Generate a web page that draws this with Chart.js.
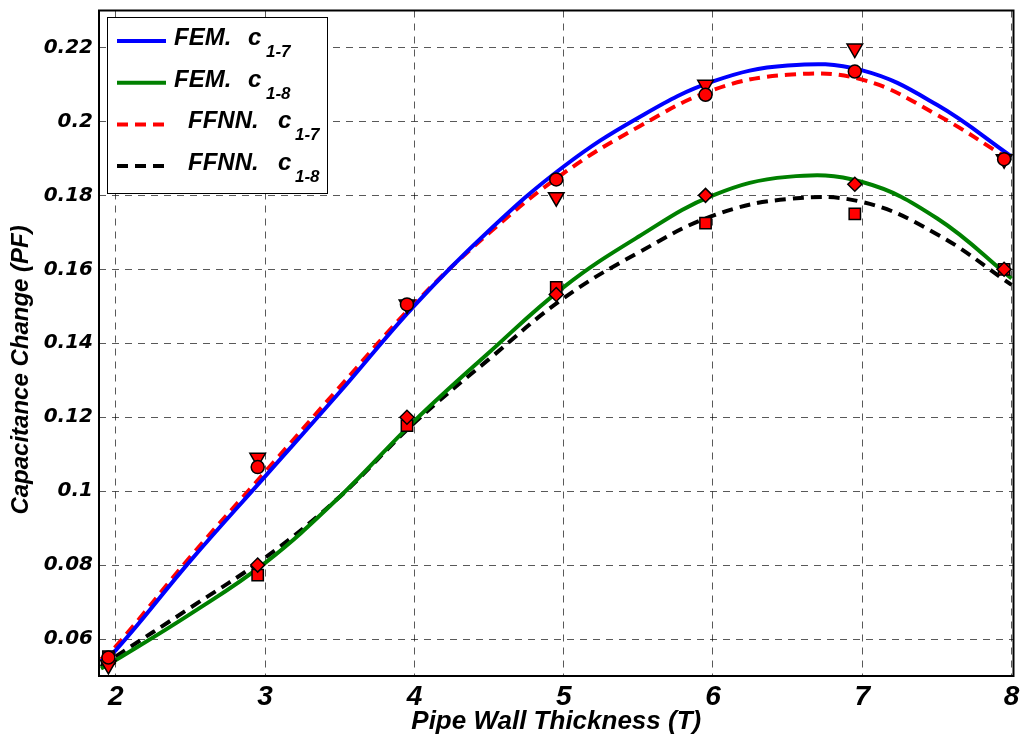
<!DOCTYPE html>
<html>
<head>
<meta charset="utf-8">
<script src="https://cdn.jsdelivr.net/npm/chart.js@4"></script>
<style>
  body { margin: 0; background: #ffffff; }
  #chart { display: block; }
</style>
</head>
<body>
<canvas id="chart" width="1024" height="740"></canvas>
<script>
// curve samples
const curveX = [1.9, 2, 2.5, 3, 3.5, 4, 4.5, 5, 5.5, 6, 6.5, 7, 7.5, 8]
const femC17 = [0.054, 0.057, 0.0812, 0.104, 0.1268, 0.1502, 0.1705, 0.1878, 0.201, 0.2108, 0.2151, 0.2138, 0.2045, 0.1905]
const femC18 = [0.052, 0.0543, 0.0668, 0.0806, 0.0985, 0.119, 0.1375, 0.1552, 0.1688, 0.18, 0.185, 0.1836, 0.1738, 0.1575]
const ffnnC17 = [0.0545, 0.058, 0.0823, 0.1052, 0.1282, 0.1507, 0.1698, 0.186, 0.1985, 0.2085, 0.2126, 0.2113, 0.2018, 0.1893]
const ffnnC18 = [0.0525, 0.0553, 0.0685, 0.082, 0.0985, 0.1185, 0.1357, 0.1522, 0.1645, 0.1745, 0.179, 0.1782, 0.1695, 0.1558]

// measured points (markers)
const markerX = [1.95, 2.95, 3.95, 4.95, 5.95, 6.95, 7.95]
const circlePts = [0.055, 0.1065, 0.1505, 0.1843, 0.2072, 0.2135, 0.1898]
const trianglePts = [0.053, 0.109, 0.1505, 0.1795, 0.2099, 0.2197, 0.1898]
const diamondPts = [0.0535, 0.08, 0.12, 0.1532, 0.18, 0.183, 0.16]
const squarePts = [0.0552, 0.0773, 0.1177, 0.1551, 0.1725, 0.175, 0.16]

const xTicks = [2, 3, 4, 5, 6, 7, 8]
const yTicks = [0.06, 0.08, 0.1, 0.12, 0.14, 0.16, 0.18, 0.2, 0.22]
const yTickLabels = ["0.06", "0.08", "0.1", "0.12", "0.14", "0.16", "0.18", "0.2", "0.22"]

const legendRows = [
    { name: "FEM.", sub: "1-7", color: "#0000ff", dash: [] },
    { name: "FEM.", sub: "1-8", color: "#008000", dash: [] },
    { name: "FFNN.", sub: "1-7", color: "#ff0000", dash: [11, 7] },
    { name: "FFNN.", sub: "1-8", color: "#000000", dash: [11, 7] }
]

const toPts = (xs, ys) => xs.map((x, i) => ({ x: x, y: ys[i] }))

const curve = (ys, color, dash) => ({
    data: toPts(curveX, ys),
    borderColor: color,
    borderWidth: 4,
    borderDash: dash,
    pointRadius: 0,
    tension: 0.4,
    fill: false,
    order: 2
})

const marks = (ys, style, rot, r) => ({
    data: toPts(markerX, ys),
    showLine: false,
    pointStyle: style,
    pointRotation: rot,
    pointRadius: r,
    backgroundColor: '#ff0000',
    borderColor: '#000000',
    pointBorderWidth: 1.5,
    order: 0
})

const sans = '"Liberation Sans", Arial, sans-serif'

const boxAndLegend = {
    id: 'boxAndLegend',
    afterDraw: (chart) => {
        const { ctx, chartArea: a } = chart
        ctx.save()
        // axes box
        ctx.strokeStyle = '#000'
        ctx.lineWidth = 2
        ctx.setLineDash([])
        ctx.strokeRect(a.left, a.top, a.right - a.left, a.bottom - a.top)

        // legend
        const lx = 107, ly = 17, lw = 220, lh = 176
        ctx.fillStyle = '#fff'
        ctx.fillRect(lx, ly, lw, lh)
        ctx.lineWidth = 1
        ctx.strokeRect(lx + 0.5, ly + 0.5, lw, lh)
        legendRows.forEach((row, i) => {
            const y = 41 + i * 41.7
            ctx.strokeStyle = row.color
            ctx.lineWidth = 4
            ctx.setLineDash(row.dash)
            ctx.beginPath()
            ctx.moveTo(117, y)
            ctx.lineTo(166, y)
            ctx.stroke()
            ctx.setLineDash([])
            const fem = row.name === "FEM."
            ctx.fillStyle = '#000'
            ctx.textBaseline = 'alphabetic'
            ctx.textAlign = 'left'
            ctx.font = 'italic bold 24px ' + sans
            ctx.fillText(row.name, fem ? 174 : 188, y + 4)
            ctx.fillText("c", fem ? 248 : 278, y + 4)
            ctx.font = 'italic bold 17px ' + sans
            ctx.fillText(row.sub, fem ? 266 : 295, y + 16)
        })
        ctx.restore()
    }
}

new Chart(document.getElementById('chart').getContext('2d'), {
    type: 'line',
    data: {
        datasets: [
            marks(circlePts, 'circle', 0, 6.5),
            marks(trianglePts, 'triangle', 180, 9),
            marks(diamondPts, 'rectRot', 0, 7),
            marks(squarePts, 'rect', 0, 8),
            curve(femC17, '#0000ff', []),
            curve(femC18, '#008000', []),
            curve(ffnnC17, '#ff0000', [11, 7]),
            curve(ffnnC18, '#000000', [11, 7])
        ]
    },
    options: {
        responsive: false,
        animation: false,
        layout: { padding: { top: 8, right: 6, left: 0, bottom: 0 } },
        plugins: {
            legend: { display: false },
            tooltip: { enabled: false }
        },
        scales: {
            x: {
                type: 'linear',
                min: 1.887,
                max: 8.013,
                afterBuildTicks: (scale) => { scale.ticks = xTicks.map(v => ({ value: v })) },
                afterFit: (scale) => {
                    scale.height = 64
                    scale.paddingLeft = 0
                    scale.paddingRight = 0
                },
                grid: { color: 'rgba(0,0,0,0.65)', lineWidth: 1, drawTicks: false },
                border: { display: false, dash: [7, 6] },
                ticks: {
                    color: '#000',
                    padding: 4,
                    maxRotation: 0,
                    font: { family: sans, size: 28, style: 'italic', weight: 'bold' }
                },
                title: {
                    display: true,
                    text: 'Pipe Wall Thickness (T)',
                    color: '#000',
                    padding: { top: 0, bottom: 3 },
                    font: { family: sans, size: 26, style: 'italic', weight: 'bold' }
                }
            },
            y: {
                min: 0.05,
                max: 0.23,
                afterBuildTicks: (scale) => { scale.ticks = yTicks.map(v => ({ value: v })) },
                afterFit: (scale) => {
                    scale.width = 99
                    scale.paddingTop = 0
                    scale.paddingBottom = 0
                },
                grid: { color: 'rgba(0,0,0,0.65)', lineWidth: 1, drawTicks: false },
                border: { display: false, dash: [7, 6] },
                ticks: {
                    color: '#000',
                    padding: 6,
                    callback: (v) => yTickLabels[yTicks.indexOf(v)],
                    font: { family: '"DejaVu Sans", sans-serif', size: 20, style: 'italic', weight: 'bold' }
                },
                title: {
                    display: true,
                    text: 'Capacitance Change (PF)        ',
                    color: '#000',
                    padding: { top: 7, bottom: 0 },
                    font: { family: sans, size: 24, style: 'italic', weight: 'bold' }
                }
            }
        }
    },
    plugins: [boxAndLegend]
})
</script>
</body>
</html>
